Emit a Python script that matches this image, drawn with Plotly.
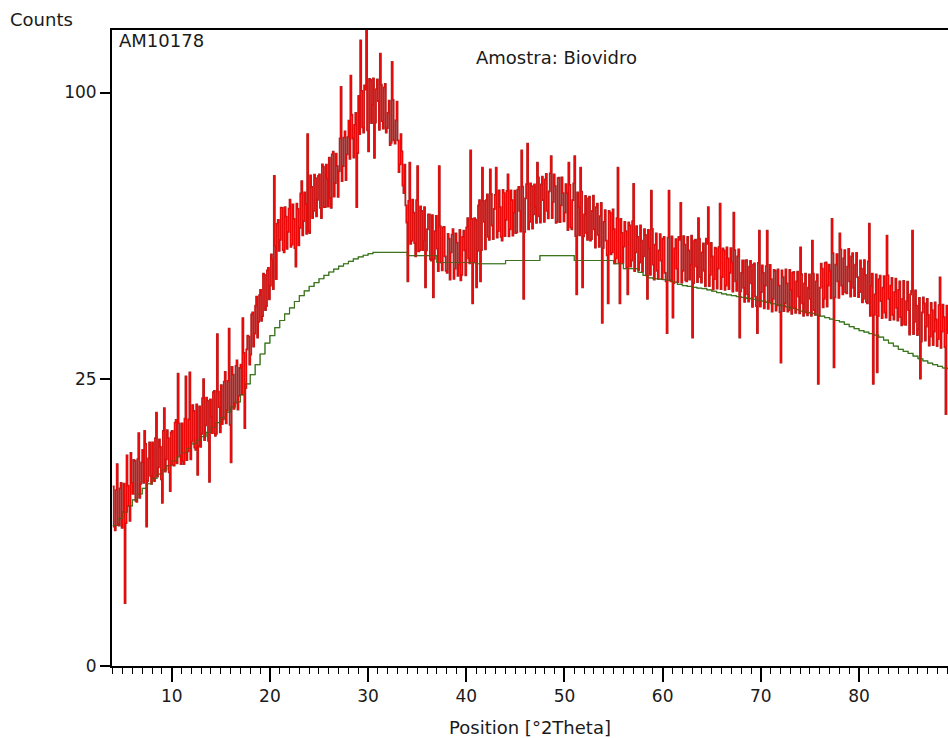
import numpy as np
import plotly.graph_objects as go

# Diffraction scan: measured counts, 0.1 deg step from 4.0 to 89.0 deg 2Theta
# (one row per degree)
scan_start, scan_step = 4.0, 0.1
counts = [
    9.8, 5.9, 5.6, 9.4, 12.4, 6.1, 6.0, 9.6, 10.2, 5.8,             # 4
    7.2, 10.1, 1.2, 6.2, 13.5, 9.9, 7.8, 6.4, 13.8, 10.2,           # 5
    9.0, 12.9, 12.8, 8.3, 8.2, 13.0, 16.5, 8.6, 10.1, 12.6,         # 6
    14.2, 10.2, 16.8, 15.0, 5.9, 10.4, 13.1, 15.2, 11.0, 10.1,      # 7
    15.2, 10.7, 10.4, 15.8, 19.5, 10.9, 12.0, 15.6, 14.6, 10.6,     # 8
    8.1, 16.8, 20.2, 11.5, 13.0, 16.9, 15.8, 11.4, 9.3, 16.6,       # 9
    16.8, 12.3, 12.2, 18.0, 18.4, 12.5, 26.0, 17.9, 13.5, 12.4,     # 10
    17.9, 12.8, 12.4, 18.6, 25.5, 12.9, 14.0, 18.5, 26.2, 13.0,     # 11
    15.3, 20.7, 19.8, 14.5, 14.2, 20.8, 11.1, 14.7, 20.5, 14.6,     # 12
    16.4, 21.8, 25.0, 15.5, 17.6, 21.9, 21.4, 15.4, 10.3, 21.6,     # 13
    18.9, 16.5, 22.8, 23.0, 16.1, 16.4, 33.5, 22.9, 20.4, 16.6,     # 14
    24.0, 17.8, 18.5, 24.6, 26.3, 17.9, 19.9, 24.7, 34.6, 17.7,     # 15
    12.6, 27.2, 25.8, 20.1, 21.0, 27.4, 28.4, 20.0, 22.2, 27.0,     # 16
    27.6, 22.4, 36.8, 29.8, 17.2, 23.5, 30.5, 33.2, 33.0, 27.6,     # 17
    29.5, 37.6, 38.0, 31.0, 33.6, 39.5, 41.5, 32.8, 36.0, 41.8,     # 18
    43.0, 36.2, 37.2, 46.8, 46.5, 38.5, 39.4, 47.6, 48.2, 40.9,     # 19
    44.0, 51.5, 50.2, 43.2, 73.0, 53.6, 45.5, 59.5, 60.5, 52.4,     # 20
    55.2, 63.9, 63.8, 52.6, 52.0, 64.0, 61.4, 52.9, 57.3, 63.6,     # 21
    66.1, 53.4, 54.0, 64.8, 60.8, 53.1, 48.5, 65.0, 63.5, 53.8,     # 22
    58.4, 67.9, 71.5, 56.4, 60.2, 68.2, 64.9, 56.8, 86.0, 57.5,     # 23
    57.0, 73.2, 69.8, 61.0, 63.0, 73.4, 72.4, 61.5, 66.1, 73.0,     # 24
    73.5, 63.8, 61.0, 76.5, 75.8, 64.0, 64.0, 76.4, 72.2, 64.2,     # 25
    78.6, 66.6, 63.8, 79.6, 80.4, 67.0, 70.9, 79.8, 76.0, 66.9,     # 26
    74.5, 84.6, 102.0, 71.5, 76.0, 84.9, 86.9, 71.8, 79.6, 85.0,    # 27
    90.4, 78.2, 106.0, 92.4, 84.6, 78.6, 89.0, 93.0, 64.0, 80.0,    # 28
    98.8, 86.0, 119.0, 100.6, 88.2, 86.5, 102.5, 101.0, 125.0, 87.2,  # 29
    80.5, 104.8, 104.5, 89.6, 95.8, 105.0, 78.5, 89.8, 101.2, 104.6,  # 30
    97.0, 87.4, 114.0, 102.8, 90.3, 87.8, 101.8, 103.0, 86.5, 88.0,   # 31
    93.0, 97.2, 82.5, 83.2, 111.0, 97.4, 84.0, 83.0, 90.5, 96.8,      # 32
    84.0, 74.2, 76.5, 86.0, 80.5, 70.2, 68.0, 76.4, 64.5, 59.8,     # 33
    45.0, 65.8, 77.0, 54.2, 55.0, 66.1, 62.5, 54.4, 51.0, 66.0,     # 34
    76.0, 52.3, 52.5, 64.2, 63.0, 52.6, 55.0, 64.0, 43.6, 52.5,     # 35
    58.0, 62.0, 62.0, 50.3, 50.0, 61.8, 41.3, 50.4, 57.5, 61.6,     # 36
    53.0, 47.4, 76.0, 58.8, 49.5, 47.6, 58.5, 58.6, 51.0, 47.5,     # 37
    47.0, 56.8, 55.5, 45.4, 52.0, 56.6, 58.0, 45.6, 48.0, 56.9,     # 38
    54.5, 46.3, 49.0, 57.8, 45.2, 46.5, 56.0, 57.6, 52.5, 46.4,     # 39
    58.5, 61.0, 50.5, 49.3, 80.8, 60.8, 40.0, 49.5, 61.0, 60.6,     # 40
    43.6, 52.4, 64.5, 66.0, 45.0, 52.6, 75.5, 65.8, 60.0, 52.8,     # 41
    66.0, 67.6, 56.0, 55.2, 75.0, 67.8, 59.0, 55.4, 63.5, 67.5,     # 42
    75.5, 55.8, 57.5, 68.8, 64.0, 56.0, 55.0, 68.9, 68.0, 56.2,     # 43
    60.5, 68.6, 73.5, 56.1, 58.0, 68.8, 66.0, 56.3, 62.5, 68.7,     # 44
    57.0, 57.2, 69.0, 69.8, 63.0, 57.4, 80.8, 69.9, 41.0, 57.3,     # 45
    66.5, 70.6, 83.0, 58.0, 60.0, 70.8, 70.0, 58.2, 62.0, 70.5,     # 46
    64.0, 59.7, 77.0, 72.6, 61.5, 59.8, 70.5, 72.8, 66.0, 60.0,     # 47
    72.0, 73.6, 63.0, 60.9, 68.5, 73.8, 79.0, 61.0, 65.5, 73.5,     # 48
    70.0, 59.7, 60.0, 72.4, 72.5, 59.9, 64.5, 72.6, 68.0, 60.1,     # 49
    62.5, 70.6, 68.0, 57.8, 77.0, 70.4, 58.5, 58.0, 66.0, 70.8,     # 50
    79.0, 56.2, 42.0, 68.2, 64.0, 56.4, 75.5, 68.4, 43.6, 56.1,     # 51
    62.0, 67.2, 57.0, 55.2, 66.5, 67.0, 55.0, 55.4, 63.0, 67.3,     # 52
    58.0, 53.2, 64.0, 65.0, 56.5, 53.4, 61.5, 65.2, 35.8, 53.1,     # 53
    60.0, 63.2, 55.0, 51.3, 40.0, 63.0, 62.5, 51.5, 52.0, 63.4,     # 54
    58.0, 49.3, 50.5, 61.0, 75.5, 49.5, 40.0, 60.8, 57.0, 49.4,     # 55
    53.5, 60.0, 57.5, 48.3, 42.0, 59.8, 59.0, 48.5, 50.0, 60.2,     # 56
    70.7, 47.4, 52.0, 58.8, 56.0, 47.6, 49.5, 59.0, 55.0, 47.3,     # 57
    51.0, 58.0, 56.5, 46.4, 41.0, 57.8, 53.0, 46.5, 68.7, 58.1,     # 58
    49.0, 45.4, 54.0, 56.9, 47.5, 45.6, 52.5, 56.7, 50.0, 45.5,     # 59
    55.5, 56.0, 47.0, 45.0, 33.7, 55.8, 68.7, 45.2, 45.0, 56.1,     # 60
    36.9, 44.6, 53.0, 55.4, 48.0, 44.8, 56.0, 55.2, 65.2, 44.7,     # 61
    47.5, 56.2, 54.0, 45.2, 45.0, 56.0, 52.5, 45.4, 49.0, 56.3,     # 62
    32.8, 44.6, 55.0, 55.3, 48.5, 44.8, 61.0, 55.5, 46.0, 44.7,     # 63
    52.0, 54.3, 47.5, 43.8, 55.5, 54.2, 64.0, 43.9, 46.5, 54.4,     # 64
    51.0, 43.1, 45.5, 53.2, 53.0, 43.3, 48.0, 53.4, 65.0, 43.2,     # 65
    46.0, 53.0, 52.5, 43.0, 44.0, 53.3, 50.5, 43.2, 47.0, 53.1,     # 66
    49.5, 42.6, 62.5, 52.6, 45.0, 42.8, 51.0, 52.8, 32.8, 42.7,     # 67
    47.0, 50.0, 43.5, 40.3, 50.0, 50.1, 42.0, 40.4, 48.5, 49.9,     # 68
    44.5, 39.2, 49.0, 49.3, 41.5, 39.4, 33.7, 49.4, 57.6, 39.3,     # 69
    42.5, 48.8, 47.0, 38.9, 44.0, 48.6, 57.6, 38.8, 40.5, 48.9,     # 70
    45.5, 38.2, 41.0, 47.7, 47.5, 38.4, 39.5, 47.8, 44.0, 38.1,     # 71
    28.0, 47.6, 46.0, 38.3, 40.0, 47.8, 44.5, 38.2, 38.5, 47.7,     # 72
    43.0, 37.7, 47.0, 47.2, 39.0, 37.9, 45.0, 47.3, 41.5, 37.8,     # 73
    53.3, 46.7, 40.0, 37.3, 44.5, 46.8, 38.0, 37.4, 43.5, 46.6,     # 74
    41.0, 37.3, 55.0, 46.8, 38.5, 37.5, 45.0, 46.6, 24.2, 37.4,     # 75
    43.5, 49.2, 48.0, 39.1, 41.0, 49.4, 49.5, 39.3, 44.0, 49.0,     # 76
    47.5, 41.1, 60.8, 51.8, 27.1, 41.3, 49.0, 51.6, 45.0, 41.2,     # 77
    56.9, 52.8, 44.0, 42.0, 50.5, 52.6, 42.5, 42.2, 48.5, 52.9,     # 78
    45.0, 41.5, 51.0, 51.8, 43.5, 41.6, 49.0, 51.9, 46.0, 41.4,     # 79
    42.5, 50.0, 48.0, 40.2, 41.0, 50.1, 46.5, 40.3, 40.0, 49.8,     # 80
    59.5, 37.3, 44.0, 46.8, 24.2, 37.5, 42.0, 46.6, 26.2, 37.2,     # 81
    45.5, 46.3, 40.5, 36.8, 43.5, 46.2, 38.0, 36.9, 56.3, 46.4,     # 82
    41.0, 36.4, 44.0, 45.8, 37.5, 36.5, 42.5, 45.6, 39.0, 36.3,     # 83
    43.0, 45.0, 37.0, 35.3, 41.0, 45.1, 35.5, 35.4, 40.5, 44.9,     # 84
    38.5, 33.4, 42.0, 42.8, 57.6, 33.5, 36.0, 42.9, 39.5, 33.3,     # 85
    34.5, 41.2, 25.1, 32.0, 38.0, 41.3, 40.0, 32.2, 35.0, 41.0,     # 86
    37.5, 31.2, 33.0, 40.1, 38.5, 31.3, 34.0, 40.2, 36.5, 31.1,     # 87
    32.5, 39.6, 45.9, 30.8, 34.0, 39.7, 37.0, 30.9, 19.3, 39.5,     # 88
    33.5,                                                           # 89
]

# Fitted background, 0.5 deg step from 4.0 to 89.0 deg 2Theta
bg_start, bg_step = 4.0, 0.5
background = [
    6.0, 6.6, 7.2, 7.8, 8.4, 9.0, 9.6, 10.1, 10.7, 11.2,
    11.7, 12.2, 12.8, 13.3, 13.8, 14.4, 15.0, 15.5, 16.0, 16.6,
    17.3, 18.0, 18.8, 19.6, 20.4, 21.2, 22.4, 24.2, 25.8, 27.6,
    29.6, 31.7, 33.2, 34.8, 36.3, 37.7, 39.0, 40.4, 41.7, 42.8,
    43.8, 44.7, 45.6, 46.4, 47.2, 47.9, 48.6, 49.2, 49.8, 50.4,
    50.9, 51.3, 51.7, 52.0, 52.0, 52.0, 52.0, 52.0, 52.0, 52.0,
    51.2, 51.2, 51.2, 51.2, 51.2, 51.2, 49.5, 49.5, 49.5, 49.5,
    49.5, 49.5, 49.5, 49.5, 49.2, 49.2, 49.2, 49.2, 49.2, 49.2,
    50.0, 50.0, 50.0, 50.0, 50.0, 50.0, 50.0, 51.2, 51.2, 51.2,
    51.2, 51.2, 51.2, 51.2, 50.0, 50.0, 50.0, 50.0, 50.0, 50.0,
    50.0, 50.0, 49.2, 49.2, 48.0, 48.0, 48.0, 47.1, 46.4, 45.8,
    45.6, 45.5, 45.4, 45.2, 44.8, 44.3, 44.0, 43.8, 43.6, 43.4,
    43.3, 43.0, 42.7, 42.4, 42.1, 41.9, 41.7, 41.5, 41.3, 41.1,
    40.9, 40.7, 40.5, 40.2, 39.9, 39.7, 39.5, 39.2, 38.9, 38.6,
    38.3, 38.0, 37.8, 37.5, 37.2, 36.9, 36.6, 36.3, 36.0, 35.5,
    35.0, 34.6, 34.2, 33.9, 33.6, 33.3, 32.9, 32.3, 31.7, 31.1,
    30.5, 30.1, 29.7, 29.2, 28.7, 28.3, 27.9, 27.6, 27.3, 27.0,
    26.8,
]

y_ticks = [0, 25, 100]
x_ticks = [10, 20, 30, 40, 50, 60, 70, 80]

two_theta = np.round(scan_start + scan_step * np.arange(len(counts)), 2)
bg_two_theta = np.round(bg_start + bg_step * np.arange(len(background)), 2)

# Intensity axis uses a square-root scale
sqrt_counts = np.sqrt(np.array(counts))
sqrt_bg = np.sqrt(np.array(background))

FONT = "DejaVu Sans"
TXT = "#1a1a1a"

fig = go.Figure()
fig.add_trace(go.Scatter(
    x=bg_two_theta, y=sqrt_bg, mode="lines",
    line=dict(color="#2f8a2f", width=1.2, shape="hv"),
    hoverinfo="skip", showlegend=False,
))
# scan drawn as a dark-red outline under a bright red stroke
fig.add_trace(go.Scatter(
    x=two_theta, y=sqrt_counts, mode="lines",
    line=dict(color="#9c3230", width=1.8, shape="hv", simplify=False),
    hoverinfo="skip", showlegend=False,
))
fig.add_trace(go.Scatter(
    x=two_theta, y=sqrt_counts, mode="lines",
    line=dict(color="#ff0000", width=0.9, shape="hv", simplify=False),
    showlegend=False,
))
# background drawn again on top so it stays visible through the band
fig.add_trace(go.Scatter(
    x=bg_two_theta, y=sqrt_bg, mode="lines",
    line=dict(color="rgba(80,100,20,0.65)", width=1, shape="hv"),
    hoverinfo="skip", showlegend=False,
))

L, R, T, B = 112, 0, 30, 72
plot_w = 948 - L - R
plot_h = 738 - T - B

def px_x(px):
    return (px - L) / plot_w

def px_y(py):
    return (738 - B - py) / plot_h

fig.update_layout(
    width=948, height=738,
    margin=dict(l=L, r=R, t=T, b=B, pad=0),
    paper_bgcolor="white", plot_bgcolor="white",
    font=dict(family=FONT, size=17, color=TXT),
    xaxis=dict(
        range=[3.92, 89.06], tickvals=x_ticks, ticktext=[str(v) for v in x_ticks],
        ticks="outside", ticklen=14, tickwidth=1.5, tickcolor="black",
        showline=True, linecolor="black", linewidth=2, mirror=True,
        showgrid=False, zeroline=False,
        tickfont=dict(family=FONT, size=17, color=TXT),
        minor=dict(dtick=1, tick0=0, ticks="outside", ticklen=6,
                   tickwidth=1.2, tickcolor="black", showgrid=False),
        title=dict(text="Position [°2Theta]", font=dict(family=FONT, size=18, color=TXT),
                   standoff=16),
    ),
    yaxis=dict(
        range=[0, 11.09], tickvals=np.sqrt(y_ticks), ticktext=[str(v) for v in y_ticks],
        ticks="outside", ticklen=10, tickwidth=1.5, tickcolor="black",
        showline=True, linecolor="black", linewidth=2, mirror=False,
        showgrid=False, zeroline=False,
        tickfont=dict(family=FONT, size=17, color=TXT),
    ),
    annotations=[
        dict(text="Counts", xref="paper", yref="paper", x=px_x(8), y=px_y(20),
             xanchor="left", yanchor="middle", showarrow=False,
             font=dict(family=FONT, size=18, color=TXT)),
        dict(text="AM10178", xref="paper", yref="paper", x=px_x(117), y=px_y(40),
             xanchor="left", yanchor="middle", showarrow=False,
             font=dict(family=FONT, size=18, color=TXT)),
        dict(text="Amostra: Biovidro", xref="paper", yref="paper", x=px_x(474), y=px_y(57),
             xanchor="left", yanchor="middle", showarrow=False,
             font=dict(family=FONT, size=18, color=TXT)),
    ],
)

fig.write_html("out.html")
